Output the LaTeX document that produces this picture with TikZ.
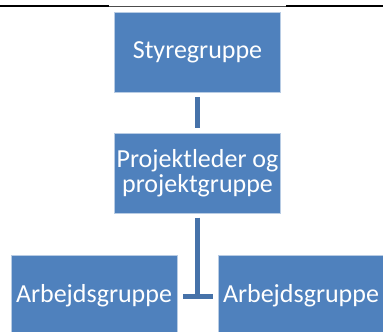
\documentclass[tikz,border=0pt]{standalone}
\usepackage{fontspec}
\setmainfont{Carlito}
\definecolor{boxblue}{HTML}{4F81BD}
\definecolor{boxedge}{HTML}{B8CCE4}
\definecolor{connblue}{HTML}{4672A9}
\begin{document}
\begin{tikzpicture}[x=1pt,y=1pt,
  box/.style={rectangle, fill=boxblue, draw=boxedge, line width=0.5pt,
    minimum width=166pt, minimum height=80pt, inner sep=0pt,
    text=white, align=center, font=\fontsize{26}{25}\selectfont},
  conn/.style={draw=connblue, line width=5pt}]
\useasboundingbox (0,0) rectangle (383,332);
% top rule
\draw[line width=2.5pt] (0,326) -- (109,326);
\draw[line width=2.5pt] (286,326) -- (383,326);
\draw[line width=0.5pt, black!70] (109,325.5) -- (286,325.5);
% boxes
\node[box] (s1) at (197.5,280) {Styregruppe};
\node[box] (s2) at (197.5,158.5) {Projektleder og\\projektgruppe};
\node[box] (a1) at (94,36.5) {Arbejdsgruppe};
\node[box] (a2) at (301,36.5) {Arbejdsgruppe};
\coordinate (j) at (197.5,35.5);
% connectors
\draw[conn] ([yshift=-5pt]s1.south) -- ([yshift=5pt]s2.north);
\draw[conn] ([yshift=-4pt]s2.south) -- ([yshift=-2.5pt]j);
\draw[conn] ([xshift=6pt]a1.east |- j) -- ([xshift=-5pt]a2.west |- j);
\end{tikzpicture}
\end{document}
